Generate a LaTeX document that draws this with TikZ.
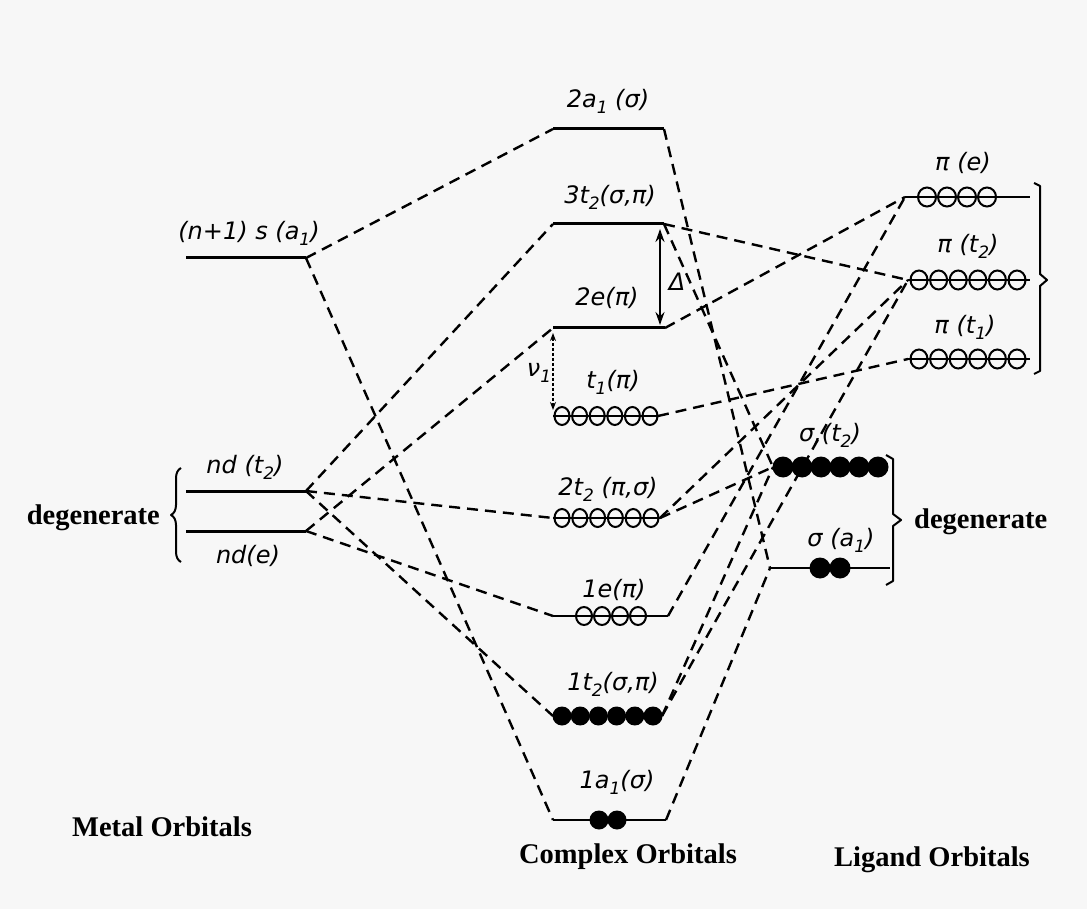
\documentclass[tikz,border=0pt]{standalone}
\usepackage{fontspec}
\setmainfont{Liberation Serif}
\newfontfamily\labfont{DejaVu Sans}
\usetikzlibrary{decorations.pathreplacing,arrows.meta}

% lowered small index inside orbital labels
\newcommand\sbs[1]{\raisebox{-0.45ex}{\fontsize{17}{17}\selectfont #1}}

\tikzset{
  lvl/.style={line width=3pt},
  thinlvl/.style={line width=2.2pt},
  link/.style={line width=2.4pt, dash pattern=on 11pt off 7pt},
  ocirc/.style={line width=2pt},
  lab/.style={font=\labfont\itshape\fontsize{24}{26}\selectfont, inner sep=0pt},
  ttl/.style={font=\bfseries\fontsize{28.5}{30}\selectfont, inner sep=0pt},
  brk/.style={line width=2pt, line join=round}
}

\begin{document}
\begin{tikzpicture}[x=1pt,y=-1pt]
\useasboundingbox (0,0) rectangle (1087,909);
\fill[black!3] (0,0) rectangle (1087,909);

% ---- level end points ----
% metal
\coordinate (sL) at (186,258);  \coordinate (sR) at (306,258);
\coordinate (dtL) at (186,491); \coordinate (dtR) at (306,491);
\coordinate (deL) at (186,531); \coordinate (deR) at (306,531);
% complex
\coordinate (a2L) at (553,129); \coordinate (a2R) at (664,129);
\coordinate (t3L) at (553,224); \coordinate (t3R) at (664,224);
\coordinate (e2L) at (553,328); \coordinate (e2R) at (665,328);
\coordinate (t1L) at (553,416); \coordinate (t1R) at (658,416);
\coordinate (t2L) at (553,518); \coordinate (t2R) at (660,518);
\coordinate (e1L) at (553,616); \coordinate (e1R) at (668,616);
\coordinate (u2L) at (553,716); \coordinate (u2R) at (662,716);
\coordinate (a1L) at (553,820); \coordinate (a1R) at (666,820);
% ligand
\coordinate (peL) at (905,197);  \coordinate (peR) at (1030,197);
\coordinate (pt2L) at (908,280); \coordinate (pt2R) at (1030,280);
\coordinate (pt1L) at (908,359); \coordinate (pt1R) at (1030,359);
\coordinate (st2L) at (773,467); \coordinate (st2R) at (888,467);
\coordinate (sa1L) at (770,568); \coordinate (sa1R) at (890,568);

% ---- correlation lines ----
\draw[link] (sR) -- (a2L);
\draw[link] (sR) -- (a1L);
\draw[link] (dtR) -- (t3L);
\draw[link] (dtR) -- (t2L);
\draw[link] (dtR) -- (u2L);
\draw[link] (deR) -- (e2L);
\draw[link] (deR) -- (e1L);

\draw[link] (a2R) -- (sa1L);
\draw[link] (a1R) -- (sa1L);
\draw[link] (t3R) -- (pt2L);
\draw[link] (t3R) -- (st2L);
\draw[link] (e2R) -- (peL);
\draw[link] (e1R) -- (peL);
\draw[link] (t1R) -- (pt1L);
\draw[link] (t2R) -- (pt2L);
\draw[link] (t2R) -- (st2L);
\draw[link] (u2R) -- (pt2L);
\draw[link] (u2R) -- (st2L);

% ---- levels ----
\draw[lvl] (sL) -- (sR);
\draw[lvl] (dtL) -- (dtR);
\draw[lvl] (deL) -- (deR);
\draw[lvl] (a2L) -- (a2R);
\draw[lvl] (t3L) -- (t3R);
\draw[lvl] (e2L) -- (e2R);
\draw[thinlvl] (t1L) -- (t1R);
\draw[thinlvl] (t2L) -- (t2R);
\draw[thinlvl] (e1L) -- (e1R);
\draw[thinlvl] (u2L) -- (u2R);
\draw[thinlvl] (a1L) -- (a1R);
\draw[thinlvl] (peL) -- (peR);
\draw[thinlvl] (pt2L) -- (pt2R);
\draw[thinlvl] (pt1L) -- (pt1R);
\draw[thinlvl] (st2L) -- (st2R);
\draw[thinlvl] (sa1L) -- (sa1R);

% empty orbitals
\foreach \i in {0,...,5} {
  \draw[ocirc] ({562+17.6*\i},416) ellipse [x radius=7.5pt, y radius=9pt];
  \draw[ocirc] ({562+17.8*\i},518) ellipse [x radius=7.5pt, y radius=9pt];
  \draw[ocirc] ({919+19.6*\i},280) ellipse [x radius=8.5pt, y radius=9.5pt];
  \draw[ocirc] ({919+19.6*\i},359) ellipse [x radius=8.5pt, y radius=9.5pt];
}
\foreach \i in {0,...,3} {
  \draw[ocirc] ({584+18*\i},616) ellipse [x radius=8pt, y radius=9pt];
  \draw[ocirc] ({927+20*\i},197) ellipse [x radius=9pt, y radius=9.5pt];
}
% filled orbitals
\foreach \i in {0,...,5} {
  \fill ({562+18.2*\i},716) circle [radius=9.5pt];
  \fill ({783+19*\i},467) circle [radius=10.5pt];
}
\foreach \x in {599,617} \fill (\x,820) circle [radius=9.5pt];
\foreach \x in {820,840} \fill (\x,568) circle [radius=10.5pt];

% ---- splitting arrows ----
\draw[line width=2pt, {Stealth[length=13pt,width=9pt]}-{Stealth[length=13pt,width=9pt]}] (660,229) -- (660,325);
\node[lab] (delta) at (677,282) {Δ};
\draw[line width=1.2pt, densely dashed, {Stealth[length=8pt,width=6pt]}-{Stealth[length=8pt,width=6pt]}] (553,333) -- (553,410);
\node[lab] (nu) at (539,373) {ν\sbs{1}};

% ---- orbital labels ----
\node[lab] (lbs)   at (249,233) {(n+1) s (a\sbs{1})};
\node[lab] (lbdt)  at (245,467) {nd (t\sbs{2})};
\node[lab] (lbde)  at (248,556) {nd(e)};
\node[lab] (lba2)  at (608,101) {2a\sbs{1} (σ)};
\node[lab] (lbt3)  at (610,197) {3t\sbs{2}(σ,π)};
\node[lab] (lbe2)  at (607,298) {2e(π)};
\node[lab] (lbt1)  at (613,382) {t\sbs{1}(π)};
\node[lab] (lbt2)  at (608,489) {2t\sbs{2} (π,σ)};
\node[lab] (lbe1)  at (614,590) {1e(π)};
\node[lab] (lbu2)  at (613,684) {1t\sbs{2}(σ,π)};
\node[lab] (lba1)  at (617,782) {1a\sbs{1}(σ)};
\node[lab] (lbpe)  at (963,163) {π (e)};
\node[lab] (lbpt2) at (968,246) {π (t\sbs{2})};
\node[lab] (lbpt1) at (965,327) {π (t\sbs{1})};
\node[lab] (lbst2) at (830,435) {σ,(t\sbs{2})};
\node[lab] (lbsa1) at (841,540) {σ (a\sbs{1})};

% ---- degeneracy brackets ----
\draw[brk, decorate, decoration={brace, amplitude=10pt}] (181,562) -- (181,468);
\node[ttl, anchor=east] (degL) at (160,518) {degenerate};
\draw[brk] (1034,183) -- (1040,186) -- (1040,274) -- (1047,280) -- (1040,286) -- (1040,371) -- (1034,374);
\draw[brk] (886,455) -- (893,459) -- (893,514) -- (901,520) -- (893,526) -- (893,581) -- (886,585);
\node[ttl, anchor=west] (degR) at (914,522) {degenerate};

% ---- column titles ----
\node[ttl] (tm) at (162,827) {Metal Orbitals};
\node[ttl] (tc) at (628,857) {Complex Orbitals};
\node[ttl] (tl) at (932,860) {Ligand Orbitals};
\end{tikzpicture}
\end{document}
